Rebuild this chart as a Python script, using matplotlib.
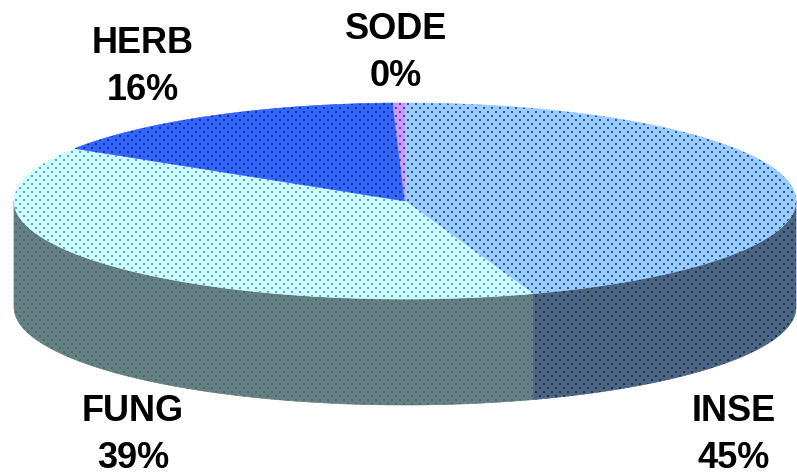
import numpy as np
import matplotlib
matplotlib.use('Agg')
import matplotlib.pyplot as plt
from matplotlib.patches import Polygon

# share of each class, clockwise from 12 o'clock
names = ['INSE', 'FUNG', 'HERB', 'SODE']
shares = [44.7, 39.3, 15.51, 0.49]
top_colors = ['#99ccff', '#ccffff', '#3366ff', '#cc99ff']
side_colors = ['#4c6680', '#668080', '#1f3d99', '#7a5c99']
dot_colors = ['#1a2f9c', '#4f7fe8', '#10207f', '#2a2fa8']
side_dot_colors = ['#141f66', '#3f5f90', '#101f66', '#30306a']
label_pos = [(734, 435), (133, 435), (143, 67), (396, 53)]

# ellipse geometry of the disc, in pixels
cx, cy = 405, 201
rx, ry = 391, 98
depth = 106

plt.rcParams['font.family'] = ['Liberation Sans', 'DejaVu Sans']
fig = plt.figure(figsize=[7.97, 4.75], dpi=100)
ax = fig.add_axes([0, 0, 1, 1])
ax.set_xlim(0, 797)
ax.set_ylim(475, 0)
ax.axis('off')

# staggered dot screen laid over every face
gx, gy = np.meshgrid(np.arange(0, 800, 8), np.arange(0, 480, 4))
gx = gx + (np.arange(gy.shape[0]) % 2)[:, None] * 4
gx, gy = gx.ravel(), gy.ravel()


def rim(a0, a1, n=200):
    t = np.radians(np.linspace(a0, a1, n))
    return cx + rx * np.sin(t), cy - ry * np.cos(t)


def dotted(xs, ys, fc, dc, z):
    poly = Polygon(np.column_stack([xs, ys]), closed=True, fc=fc, ec=fc, lw=0.5, zorder=z)
    ax.add_patch(poly)
    dots = ax.scatter(gx, gy, s=2.8, marker='s', c=dc, lw=0, alpha=0.8, zorder=z + 0.1)
    dots.set_clip_path(poly)


edges = np.cumsum([0] + shares) * 3.6

# outer wall first, only the front half of the rim is visible
for i in range(len(shares)):
    a0, a1 = max(edges[i], 90), min(edges[i + 1], 270)
    if a1 <= a0:
        continue
    x, y = rim(a0, a1)
    dotted(np.r_[x, x[::-1]], np.r_[y, y[::-1] + depth], side_colors[i], side_dot_colors[i], 1)

# top face
for i in range(len(shares)):
    x, y = rim(edges[i], edges[i + 1])
    dotted(np.r_[cx, x], np.r_[cy, y], top_colors[i], dot_colors[i], 2)

for name, share, (lx, ly) in zip(names, shares, label_pos):
    ax.text(lx, ly, f'{name}\n{share:.0f}%', ha='center', va='center', fontsize=26,
            fontweight='bold', color='black', linespacing=1.42, zorder=5)

fig.savefig('out.png', dpi=100)
